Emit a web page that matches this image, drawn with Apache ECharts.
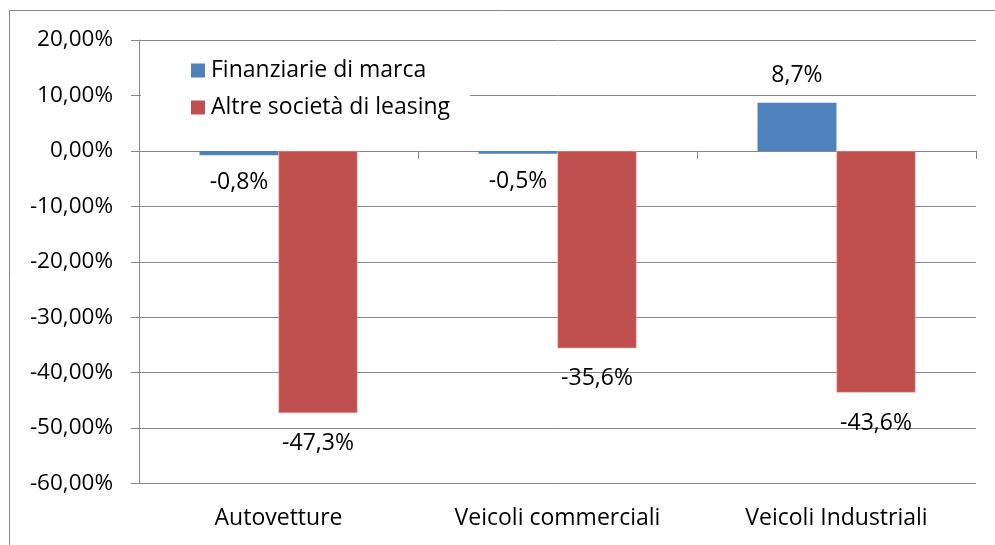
<!DOCTYPE html>
<html>
<head>
<meta charset="utf-8">
<script src="https://cdn.jsdelivr.net/npm/echarts@6/dist/echarts.min.js"></script>
<style>
  html, body { margin: 0; padding: 0; background: #fff; }
  #chart { width: 995px; height: 545px; }
</style>
</head>
<body>
<div id="chart"></div>
<script>
var categories = ['Autovetture', 'Veicoli commerciali', 'Veicoli Industriali'];
var seriesNames = ['Finanziarie di marca', 'Altre società di leasing'];
var finanziarie = [-0.8, -0.5, 8.7];
var altreSocieta = [-47.3, -35.6, -43.6];
var yMin = -60, yMax = 20, yStep = 10;

var FONT = 'Open Sans';
var GRAY = '#878787';

function pct(v) {
    return v.toFixed(1).replace('.', ',') + '%';
}

var chart = echarts.init(document.getElementById('chart'));

var option = {
    animation: false,
    backgroundColor: '#fff',
    textStyle: { fontFamily: FONT },
    graphic: [{
        type: 'rect',
        shape: { x: 9.5, y: 10.5, width: 1000, height: 600 },
        style: { fill: 'none', stroke: GRAY, lineWidth: 1 },
        silent: true
    }],
    grid: { left: 139, right: 19, top: 40, bottom: 61.5 },
    legend: {
        orient: 'vertical',
        left: 141,
        top: 45,
        padding: [14, 20, 14, 50],
        backgroundColor: '#fff',
        itemWidth: 14,
        itemHeight: 14,
        itemGap: 14,
        icon: 'rect',
        itemStyle: { borderWidth: 0 },
        data: seriesNames,
        textStyle: { fontFamily: FONT, fontSize: 23, color: '#000', padding: [0, 0, 0, 1] }
    },
    xAxis: [{
        type: 'category',
        data: categories,
        axisLine: { onZero: true, lineStyle: { color: GRAY, width: 1 } },
        axisTick: { show: true, length: 8, lineStyle: { color: GRAY } },
        axisLabel: { show: false },
        splitLine: { show: false }
    }, {
        type: 'category',
        data: categories,
        position: 'bottom',
        axisLine: { show: false, onZero: false },
        axisTick: { show: false },
        axisLabel: { show: true, margin: 23, fontFamily: FONT, fontSize: 23, color: '#000' },
        splitLine: { show: false }
    }],
    yAxis: {
        type: 'value',
        min: yMin,
        max: yMax,
        interval: yStep,
        axisLine: { show: true, lineStyle: { color: GRAY, width: 1 } },
        axisTick: { show: true, length: 8, lineStyle: { color: GRAY } },
        axisLabel: {
            margin: 26,
            fontFamily: FONT,
            fontSize: 22.5,
            color: '#000',
            formatter: function (v) { return v.toFixed(2).replace('.', ',') + '%'; }
        },
        splitLine: { show: true, lineStyle: { color: GRAY, width: 1 } }
    },
    series: [{
        name: seriesNames[0],
        type: 'bar',
        xAxisIndex: 0,
        barWidth: 79,
        barGap: '0%',
        itemStyle: { color: '#4F81BD' },
        label: {
            show: true,
            position: 'outside',
            distance: 16,
            fontFamily: FONT,
            fontSize: 23,
            color: '#000',
            formatter: function (p) { return pct(p.value); }
        },
        data: finanziarie
    }, {
        name: seriesNames[1],
        type: 'bar',
        xAxisIndex: 0,
        barWidth: 79,
        barGap: '0%',
        itemStyle: { color: '#C0504D', borderColor: '#E6B4B3', borderWidth: 0.5 },
        label: {
            show: true,
            position: 'outside',
            distance: 19,
            fontFamily: FONT,
            fontSize: 23,
            color: '#000',
            formatter: function (p) { return pct(p.value); }
        },
        data: altreSocieta
    }]
};

chart.setOption(option);
</script>
</body>
</html>
